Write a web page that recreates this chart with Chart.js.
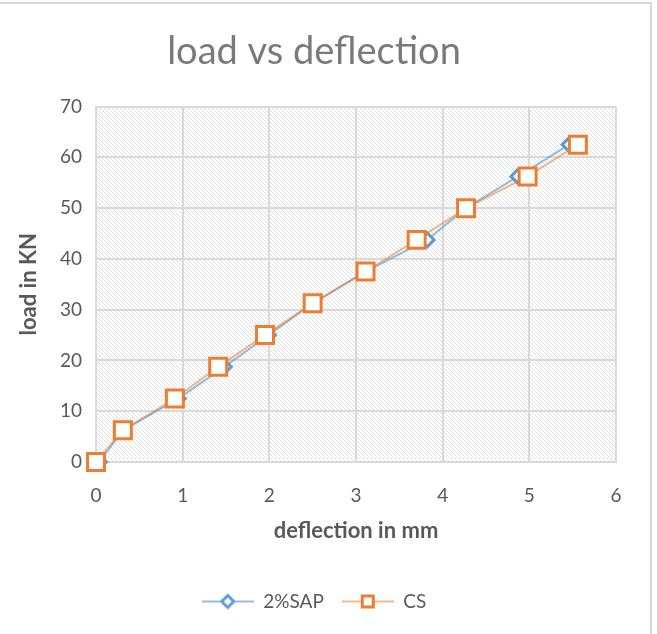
<!DOCTYPE html>
<html>
<head>
<meta charset="utf-8">
<script src="https://cdn.jsdelivr.net/npm/chart.js@4/dist/chart.umd.min.js"></script>
<style>
  body { margin: 0; background: #fff; }
  #wrap { width: 657px; height: 634px; }
</style>
</head>
<body>
<div id="wrap"><canvas id="myChart" width="657" height="634"></canvas></div>
<script>
// values
var loadKN = [0, 6.25, 12.5, 18.75, 25, 31.25, 37.5, 43.75, 50, 56.25, 62.5];
var sapDefl = [0.04, 0.31, 0.95, 1.48, 1.99, 2.5, 3.11, 3.82, 4.27, 4.87, 5.46];
var csDefl = [0, 0.31, 0.91, 1.41, 1.95, 2.5, 3.11, 3.70, 4.27, 4.98, 5.56];
var seriesNames = ['2%SAP', 'CS'];
var xTicks = [0, 1, 2, 3, 4, 5, 6];
var yTicks = [0, 10, 20, 30, 40, 50, 60, 70];

var BLUE = '#5B9BD5', ORANGE = '#ED7D31';
var BLUE_LINE = 'rgba(91, 155, 213, 0.65)', ORANGE_LINE = 'rgba(237, 125, 49, 0.55)';
var FONT = 'Lato, "Open Sans", sans-serif';

function toPoints(xs, ys) {
    return xs.map(function(x, i) { return {x: x, y: ys[i]}; });
}

// hatch tile for the plot background
function hatchPattern(ctx) {
    var t = document.createElement('canvas');
    t.width = 4; t.height = 4;
    var c = t.getContext('2d');
    c.fillStyle = '#ffffff';
    c.fillRect(0, 0, 4, 4);
    c.fillStyle = '#e0e0e0';
    for (var i = 0; i < 4; i++) c.fillRect(i, i, 1, 1);
    return ctx.createPattern(t, 'repeat');
}

// legend icon: short line with the marker in the middle
function legendIcon(lineColor, markerColor, shape) {
    var c = document.createElement('canvas');
    c.width = 52; c.height = 20;
    var g = c.getContext('2d');
    g.strokeStyle = lineColor;
    g.lineWidth = 2;
    g.beginPath(); g.moveTo(0, 10); g.lineTo(52, 10); g.stroke();
    g.fillStyle = '#fff';
    g.strokeStyle = markerColor;
    g.lineWidth = 3;
    g.beginPath();
    if (shape === 'diamond') {
        g.moveTo(26, 4); g.lineTo(32, 10); g.lineTo(26, 16); g.lineTo(20, 10); g.closePath();
    } else {
        g.rect(20.5, 4.5, 11, 11);
    }
    g.fill(); g.stroke();
    return c;
}

var icons = [legendIcon(BLUE_LINE, BLUE, 'diamond'), legendIcon(ORANGE_LINE, ORANGE, 'square')];

var backdrop = {
    id: 'backdrop',
    beforeDraw: function(chart) {
        var ctx = chart.ctx, a = chart.chartArea;
        ctx.save();
        ctx.strokeStyle = '#d9d9d9';
        ctx.lineWidth = 2;
        ctx.beginPath();
        ctx.moveTo(0, 3); ctx.lineTo(651, 3); ctx.lineTo(651, chart.height);
        ctx.stroke();
        ctx.fillStyle = hatchPattern(ctx);
        ctx.fillRect(a.left, a.top, a.right - a.left, a.bottom - a.top);
        ctx.restore();
    }
};

var ctx = document.getElementById('myChart');
var myChart = new Chart(ctx, {
    type: 'line',
    data: {
        datasets: [{
            label: seriesNames[0],
            data: toPoints(sapDefl, loadKN),
            order: 1,
            clip: false,
            borderColor: BLUE_LINE,
            borderWidth: 2,
            pointStyle: 'rectRot',
            pointRadius: 7,
            pointBorderWidth: 3,
            pointBorderColor: BLUE,
            pointBackgroundColor: '#fff'
        }, {
            label: seriesNames[1],
            data: toPoints(csDefl, loadKN),
            order: 0,
            clip: false,
            borderColor: ORANGE_LINE,
            borderWidth: 2,
            pointStyle: 'rect',
            pointRadius: 12,
            pointBorderWidth: 3,
            pointBorderColor: ORANGE,
            pointBackgroundColor: '#fff'
        }]
    },
    options: {
        responsive: false,
        animation: false,
        layout: { padding: { left: 12, right: 41, top: 0, bottom: 13 } },
        plugins: {
            title: {
                display: true,
                text: 'load vs deflection',
                color: '#7a7a7a',
                font: { family: FONT, size: 38, weight: 'normal' },
                padding: { top: 29, bottom: 32 }
            },
            legend: {
                position: 'bottom',
                labels: {
                    usePointStyle: true,
                    pointStyleWidth: 52,
                    color: '#595959',
                    font: { family: FONT, size: 19 },
                    padding: 18,
                    generateLabels: function(chart) {
                        return chart.data.datasets.map(function(ds, i) {
                            return { text: ds.label, pointStyle: icons[i], datasetIndex: i,
                                     fontColor: '#595959', lineWidth: 0, strokeStyle: 'transparent' };
                        });
                    }
                }
            },
            tooltip: { enabled: false }
        },
        scales: {
            x: {
                type: 'linear',
                min: 0, max: 6,
                afterBuildTicks: function(s) { s.ticks = xTicks.map(function(v) { return {value: v}; }); },
                afterFit: function(s) { s.height = 112; },
                grid: { color: '#d9d9d9', lineWidth: 2, drawTicks: false },
                border: { color: '#d9d9d9', width: 2 },
                ticks: { color: '#595959', font: { family: FONT, size: 19 }, padding: 22 },
                title: { display: true, text: 'deflection in mm', color: '#595959',
                         font: { family: FONT, size: 22, weight: 'bold' }, padding: { top: 4, bottom: 30 } }
            },
            y: {
                min: 0, max: 70,
                afterBuildTicks: function(s) { s.ticks = yTicks.map(function(v) { return {value: v}; }); },
                afterFit: function(s) { s.width = 84; },
                grid: { color: '#d9d9d9', lineWidth: 2, drawTicks: false },
                border: { color: '#d9d9d9', width: 2 },
                ticks: { color: '#595959', font: { family: FONT, size: 19 }, padding: 14 },
                title: { display: true, text: 'load in KN', color: '#595959',
                         font: { family: FONT, size: 22, weight: 'bold' } }
            }
        }
    },
    plugins: [backdrop]
});
</script>
</body>
</html>
